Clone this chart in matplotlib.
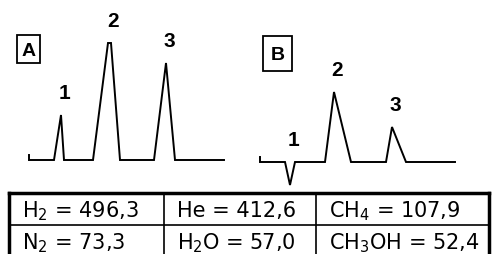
import matplotlib
matplotlib.use("Agg")
import matplotlib.pyplot as plt
from matplotlib.patches import Rectangle

# chromatogram A: baseline start/end, peaks (start, apex, end, height)
a_base = 160
a_range = (29, 224)
a_start_step = 5
a_peaks = [(54, 61, 64, 45), (93, 108, 120, 117), (154, 166, 175, 97)]
a_apex_flat = [0, 3, 0]

# chromatogram B: peak 1 is negative
b_base = 162
b_range = (260, 455)
b_start_step = 5
b_peaks = [(285, 290, 295, -23), (325, 334, 351, 70), (386, 392, 406, 35)]
b_apex_flat = [0, 0, 0]

peak_names = ["1", "2", "3"]

# thermal conductivity table
cells = [
    ["H$_2$ = 496,3", "He = 412,6", "CH$_4$ = 107,9"],
    ["N$_2$ = 73,3", "H$_2$O = 57,0", "CH$_3$OH = 52,4"],
]


def trace(base, xr, step, peaks, flats):
    xs = [xr[0], xr[0]]
    ys = [base - step, base]
    for (s, apex, e, h), f in zip(peaks, flats):
        xs += [s, apex, apex + f, e]
        ys += [base, base - h, base - h, base]
    xs.append(xr[1])
    ys.append(base)
    return xs, ys


plt.rcParams["mathtext.default"] = "regular"
fig = plt.figure(figsize=(4.93, 2.54), dpi=100)
ax = fig.add_axes([0, 0, 1, 1])
ax.set_xlim(0, 493)
ax.set_ylim(254, 0)
ax.axis("off")

for base, xr, step, peaks, flats in [
    (a_base, a_range, a_start_step, a_peaks, a_apex_flat),
    (b_base, b_range, b_start_step, b_peaks, b_apex_flat),
]:
    xs, ys = trace(base, xr, step, peaks, flats)
    ax.plot(xs, ys, color="black", lw=1.4, solid_joinstyle="miter")
    for (s, apex, e, h), f, name in zip(peaks, flats, peak_names):
        top = base - max(h, 0)
        ax.text(apex + f / 2 + 3.5, top - 16, name, ha="center", va="baseline",
                fontsize=15, fontweight="bold", family="Liberation Sans")

# panel letters in boxes
for letter, x0, y0, w, h in [("A", 17, 35, 23, 28), ("B", 263, 36, 29, 35)]:
    ax.add_patch(Rectangle((x0, y0), w, h, fill=False, ec="black", lw=1.3))
    ax.text(x0 + w / 2, y0 + h / 2 + 7, letter, ha="center", va="baseline",
            fontsize=14, fontweight="bold", family="Liberation Sans")

# table
col_x = [9, 164, 316, 489]
row_y = [193, 225, 258]
ax.plot([col_x[0], col_x[-1]], [row_y[0], row_y[0]], color="black", lw=2.5)
ax.plot([col_x[0], col_x[0]], [row_y[0], 260], color="black", lw=2.5)
ax.plot([col_x[-1], col_x[-1]], [row_y[0], 260], color="black", lw=2.5)
ax.plot([col_x[0], col_x[-1]], [row_y[1], row_y[1]], color="black", lw=1.2)
for cx in col_x[1:-1]:
    ax.plot([cx, cx], [row_y[0], 260], color="black", lw=1.2)

for r, row in enumerate(cells):
    for c, txt in enumerate(row):
        ax.text(col_x[c] + 13, row_y[r] + 24, txt, ha="left", va="baseline",
                fontsize=15)

fig.savefig("out.png", dpi=100)
